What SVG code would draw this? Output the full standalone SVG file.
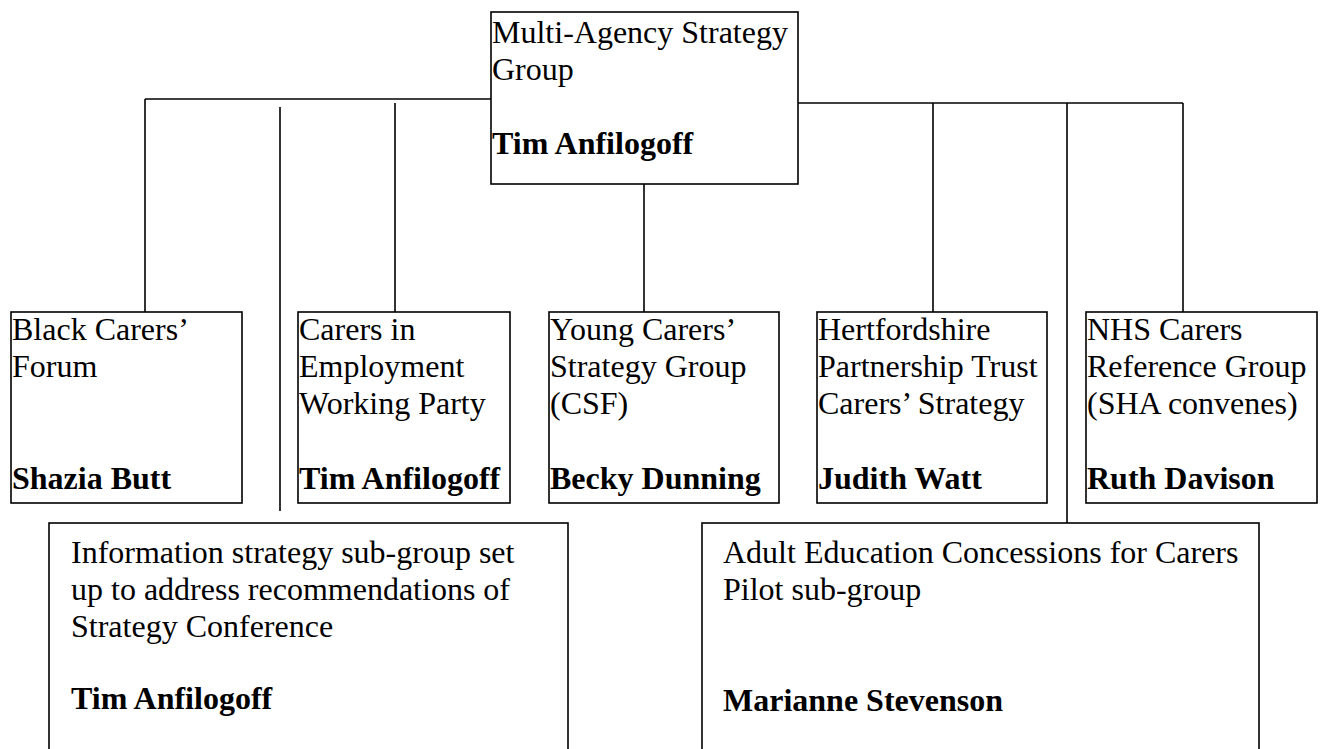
<svg xmlns="http://www.w3.org/2000/svg" width="1322" height="749" viewBox="0 0 1322 749">
<style>
.box{fill:#fff;stroke:#000;stroke-width:1.6}
.ln{stroke:#000;stroke-width:1.6;fill:none}
text{font-family:"Liberation Serif","Times New Roman",serif;font-size:32px;fill:#000}
.b{font-weight:bold}
</style>
<rect width="1322" height="749" fill="#fff"/>
<g id="connectors">
<line class="ln" x1="145" y1="99" x2="491" y2="99"/>
<line class="ln" x1="798" y1="103" x2="1183" y2="103"/>
<line class="ln" x1="145" y1="99" x2="145" y2="312"/>
<line class="ln" x1="280" y1="107" x2="280" y2="511"/>
<line class="ln" x1="395" y1="103" x2="395" y2="312"/>
<line class="ln" x1="644" y1="178" x2="644" y2="312"/>
<line class="ln" x1="933" y1="103" x2="933" y2="312"/>
<line class="ln" x1="1067" y1="103" x2="1067" y2="523"/>
<line class="ln" x1="1183" y1="103" x2="1183" y2="312"/>
</g>
<g id="top">
<rect class="box" x="491" y="12" width="307" height="172"/>
<text x="492" y="43">Multi-Agency Strategy</text>
<text x="492" y="80">Group</text>
<text class="b" x="492" y="154">Tim Anfilogoff</text>
</g>
<g id="black">
<rect class="box" x="11" y="312" width="231" height="191"/>
<text x="12" y="340">Black Carers’</text>
<text x="12" y="377">Forum</text>
<text class="b" x="12" y="489">Shazia Butt</text>
</g>
<g id="employment">
<rect class="box" x="298" y="312" width="212" height="191"/>
<text x="299" y="340">Carers in</text>
<text x="299" y="377">Employment</text>
<text x="299" y="414">Working Party</text>
<text class="b" x="299" y="489">Tim Anfilogoff</text>
</g>
<g id="young">
<rect class="box" x="549" y="312" width="230" height="191"/>
<text x="550" y="340">Young Carers’</text>
<text x="550" y="377">Strategy Group</text>
<text x="550" y="414">(CSF)</text>
<text class="b" x="550" y="489">Becky Dunning</text>
</g>
<g id="herts">
<rect class="box" x="817" y="312" width="230" height="191"/>
<text x="818" y="340">Hertfordshire</text>
<text x="818" y="377">Partnership Trust</text>
<text x="818" y="414">Carers’ Strategy</text>
<text class="b" x="818" y="489">Judith Watt</text>
</g>
<g id="nhs">
<rect class="box" x="1086" y="312" width="231" height="191"/>
<text x="1087" y="340">NHS Carers</text>
<text x="1087" y="377">Reference Group</text>
<text x="1087" y="414">(SHA convenes)</text>
<text class="b" x="1087" y="489">Ruth Davison</text>
</g>
<g id="info">
<rect class="box" x="49" y="523" width="519" height="240"/>
<text x="71" y="563">Information strategy sub-group set</text>
<text x="71" y="600">up to address recommendations of</text>
<text x="71" y="637">Strategy Conference</text>
<text class="b" x="71" y="709">Tim Anfilogoff</text>
</g>
<g id="adult">
<rect class="box" x="702" y="523" width="557" height="240"/>
<text x="723" y="563">Adult Education Concessions for Carers</text>
<text x="723" y="600">Pilot sub-group</text>
<text class="b" x="723" y="711">Marianne Stevenson</text>
</g>
</svg>
